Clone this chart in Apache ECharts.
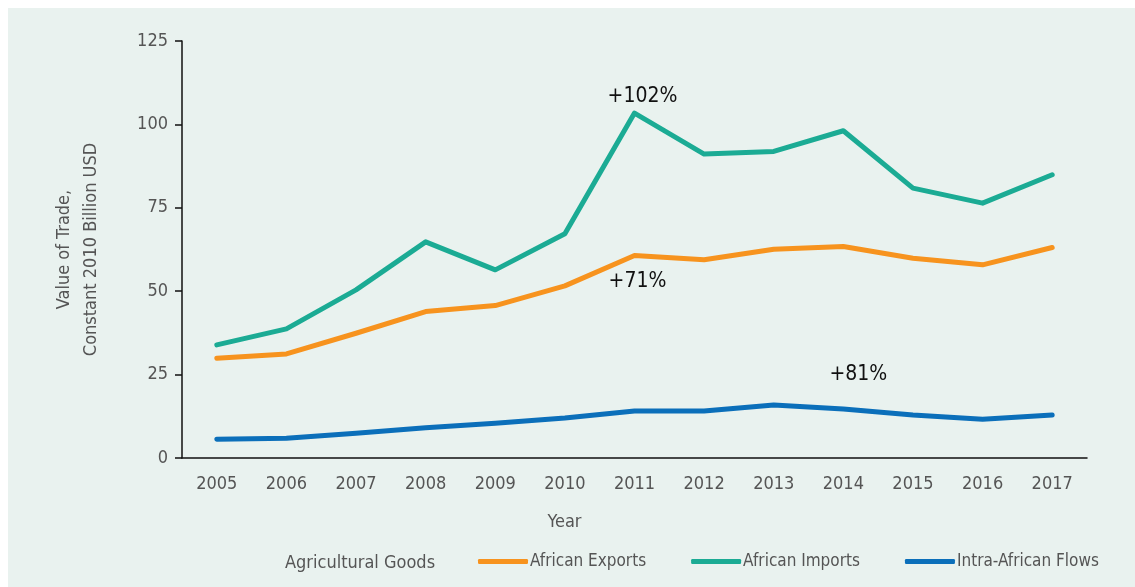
<!DOCTYPE html>
<html>
<head>
<meta charset="utf-8">
<script src="https://cdn.jsdelivr.net/npm/echarts@6/dist/echarts.min.js"></script>
<style>
  html, body { margin: 0; padding: 0; background: #ffffff; }
  #main { position: absolute; left: 8px; top: 8px; width: 1127px; height: 579px; background: #e9f2ef; }
</style>
</head>
<body>
<div id="main"></div>
<script>
var years = ['2005', '2006', '2007', '2008', '2009', '2010', '2011', '2012', '2013', '2014', '2015', '2016', '2017'];
var exportsVals = [29.9, 31.2, 37.4, 43.9, 45.7, 51.6, 60.7, 59.4, 62.6, 63.4, 59.9, 57.9, 63.1];
var importsVals = [33.9, 38.7, 50.4, 64.8, 56.4, 67.2, 103.4, 91.1, 91.9, 98.1, 80.9, 76.4, 84.9];
var intraVals = [5.6, 5.9, 7.4, 9.1, 10.4, 12.0, 14.1, 14.1, 15.9, 14.7, 12.9, 11.6, 12.9];
var yTicks = [0, 25, 50, 75, 100, 125];

var font = "'DejaVu Sans Condensed', 'DejaVu Sans', sans-serif";
var grey = '#555555';

function note(text, year, value, dx) {
    return {
        coord: [year, value],
        symbol: 'circle',
        symbolSize: 0,
        label: {
            show: true,
            position: 'inside',
            offset: [dx, 0],
            formatter: text,
            color: '#111111',
            fontSize: 21,
            fontFamily: font
        }
    };
}

var option = {
    animation: false,
    title: {
        text: 'Agricultural Goods',
        left: 272,
        top: 541,
        textStyle: { color: grey, fontSize: 18, fontWeight: 'normal', fontFamily: font }
    },
    legend: {
        left: 465,
        top: 540,
        width: 660,
        itemWidth: 50,
        itemHeight: 5,
        itemGap: 45,
        icon: 'roundRect',
        textStyle: { color: grey, fontSize: 17, fontFamily: font, padding: [0, 0, 0, -3] },
        data: ['African Exports', 'African Imports', 'Intra-African Flows']
    },
    grid: { left: 174, top: 33, width: 905, height: 417, containLabel: false },
    xAxis: {
        type: 'category',
        data: years,
        name: 'Year',
        nameLocation: 'middle',
        nameGap: 55,
        nameTextStyle: { color: grey, fontSize: 18, fontFamily: font, padding: [0, 140, 0, 0] },
        axisLine: { lineStyle: { color: '#111111', width: 1.5 } },
        axisTick: { length: 7, lineStyle: { color: '#111111', width: 1.5 } },
        axisLabel: { color: grey, fontSize: 18, fontFamily: font, margin: 17 }
    },
    yAxis: {
        type: 'value',
        min: 0,
        max: 125,
        interval: 25,
        name: 'Value of Trade,\nConstant 2010 Billion USD',
        nameLocation: 'middle',
        nameGap: 77,
        nameTextStyle: { color: grey, fontSize: 18, fontFamily: font, lineHeight: 27 },
        splitLine: { show: false },
        axisLine: { show: true, lineStyle: { color: '#111111', width: 1.5 } },
        axisTick: { show: true, length: 7, lineStyle: { color: '#111111', width: 1.5 } },
        axisLabel: {
            color: grey, fontSize: 18, fontFamily: font, margin: 14,
            formatter: function (v) { return yTicks.indexOf(v) >= 0 ? String(v) : ''; }
        }
    },
    series: [
        {
            name: 'African Exports',
            type: 'line',
            data: exportsVals,
            symbol: 'none',
            color: '#f7931e',
            lineStyle: { width: 5, cap: 'round', join: 'round' },
            markPoint: { data: [note('+71%', '2011', 52.8, 3)] }
        },
        {
            name: 'African Imports',
            type: 'line',
            data: importsVals,
            symbol: 'none',
            color: '#1bab94',
            lineStyle: { width: 5, cap: 'round', join: 'round' },
            markPoint: { data: [note('+102%', '2011', 108.3, 8)] }
        },
        {
            name: 'Intra-African Flows',
            type: 'line',
            data: intraVals,
            symbol: 'none',
            color: '#0b6fba',
            lineStyle: { width: 5, cap: 'round', join: 'round' },
            markPoint: { data: [note('+81%', '2014', 24.9, 15)] }
        }
    ]
};

var myChart = echarts.init(document.getElementById('main'));
myChart.setOption(option);
</script>
</body>
</html>
